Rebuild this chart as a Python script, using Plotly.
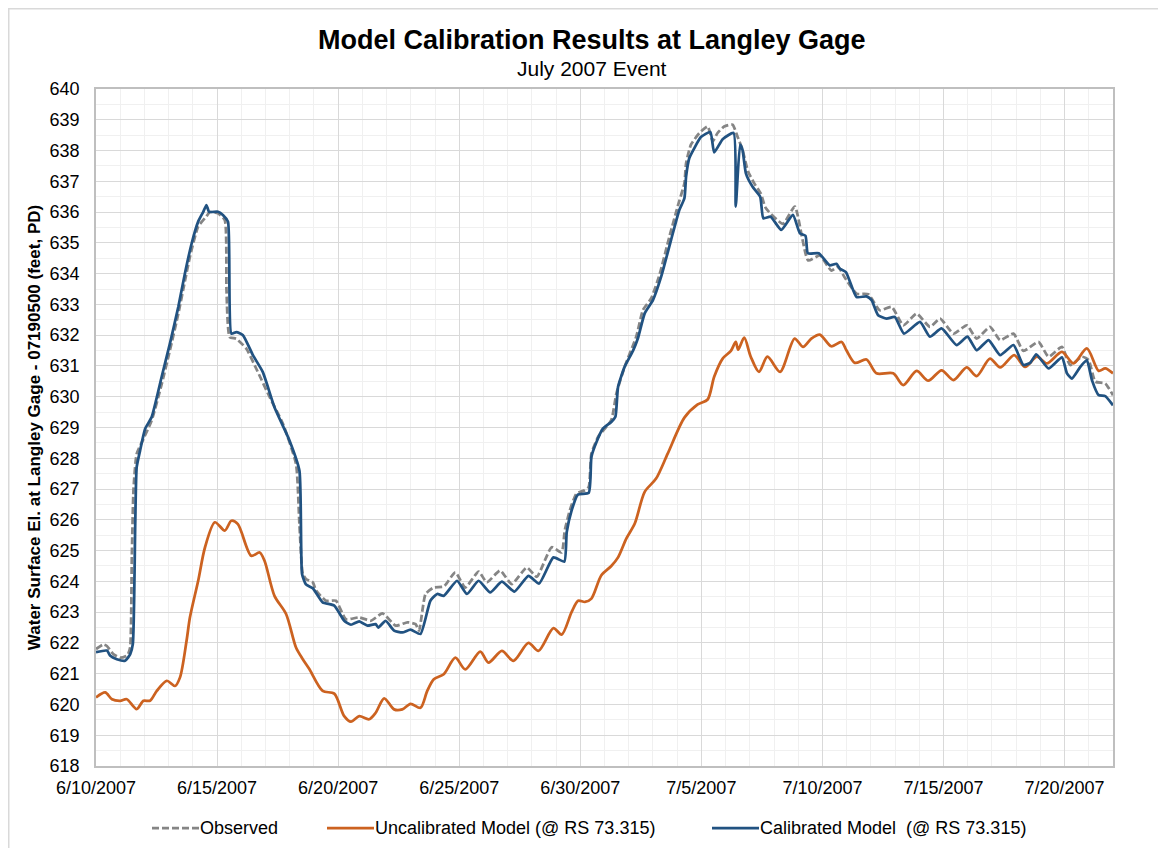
import pandas as pd
import plotly.graph_objects as go

# Data: day offsets from 6/10/2007 00:00 and water surface elevation (ft, PD)
observed_day = [
    0.0, 0.3, 0.45, 0.7, 1.0, 1.3, 1.41, 1.48, 1.55, 1.68, 1.96, 2.3, 2.71, 3.05, 3.4, 3.67,
    3.88, 4.22, 4.56, 4.7, 5.04, 5.32, 5.39, 5.52, 5.8, 6.21, 6.62, 7.17, 7.72, 8.26, 8.4,
    8.54, 8.67, 8.95, 9.09, 9.5, 9.91, 10.32, 10.87, 11.35, 11.83, 12.38, 12.86, 13.2, 13.34,
    13.61, 13.95, 14.36, 14.84, 15.25, 15.8, 16.14, 16.69, 17.17, 17.79, 18.2, 18.82, 19.23,
    19.36, 19.57, 19.84, 20.19, 20.35, 20.46, 20.74, 21.28, 21.49, 21.83, 22.31, 22.59, 22.93,
    23.27, 23.68, 24.02, 24.3, 24.37, 24.57, 24.92, 25.26, 25.47, 25.67, 25.94, 26.29, 26.49,
    26.7, 26.93, 27.18, 27.45, 27.66, 28.37, 28.86, 29.41, 29.89, 30.37, 30.65, 30.9, 31.41,
    31.89, 32.37, 32.86, 33.34, 33.89, 34.44, 34.86, 35.41, 35.96, 36.37, 36.92, 37.34, 37.89,
    38.3, 38.92, 39.34, 39.89, 40.23, 40.72, 40.99, 41.27, 41.68, 42.0,
]
observed_ft = [
    621.8, 621.95, 621.9, 621.65, 621.52, 621.6, 621.85, 624.8, 627.0, 628.14, 628.63, 629.23,
    630.4, 631.5, 632.7, 633.75, 634.55, 635.53, 635.86, 636.0, 635.96, 635.74, 633.46, 631.94,
    631.88, 631.56, 630.91, 629.99, 629.12, 627.82, 625.87, 624.24, 624.08, 623.97, 623.7,
    623.37, 623.37, 622.77, 622.83, 622.72, 622.96, 622.56, 622.67, 622.61, 622.4, 623.59,
    623.8, 623.83, 624.29, 623.8, 624.32, 623.97, 624.35, 623.91, 624.45, 624.15, 625.11,
    624.94, 625.66, 626.31, 626.85, 626.96, 627.07, 628.15, 628.7, 629.24, 630.1, 630.97,
    631.95, 632.82, 633.2, 633.96, 635.2, 636.18, 636.94, 637.59, 638.19, 638.57, 638.78,
    638.3, 638.57, 638.78, 638.84, 638.46, 638.02, 637.32, 636.94, 636.61, 636.13, 635.62,
    636.18, 634.43, 634.59, 634.1, 634.22, 633.9, 633.35, 633.33, 632.81, 632.92, 632.32,
    632.7, 632.27, 632.54, 632.05, 632.32, 631.89, 632.27, 631.84, 632.05, 631.49, 631.78,
    631.3, 631.62, 631.03, 631.3, 631.2, 630.49, 630.43, 630.05,
]

uncalibrated_day = [
    0.0, 0.38, 0.66, 1.0, 1.27, 1.68, 1.96, 2.23, 2.51, 2.92, 3.26, 3.47, 3.74, 3.88, 4.22,
    4.5, 4.91, 5.32, 5.59, 5.86, 6.41, 6.76, 6.96, 7.37, 7.85, 8.26, 8.54, 8.81, 9.36, 9.84,
    10.25, 10.53, 10.87, 11.28, 11.55, 11.9, 12.31, 12.65, 12.99, 13.4, 13.68, 13.95, 14.36,
    14.84, 15.25, 15.87, 16.21, 16.76, 17.24, 17.86, 18.27, 18.89, 19.23, 19.64, 19.91, 20.19,
    20.46, 20.87, 21.28, 21.56, 21.9, 22.25, 22.66, 23.13, 23.61, 24.3, 24.85, 25.26, 25.53,
    25.88, 26.22, 26.42, 26.52, 26.77, 27.04, 27.38, 27.73, 28.25, 28.85, 29.2, 29.54, 29.89,
    30.37, 30.79, 30.99, 31.34, 31.82, 32.23, 32.92, 33.34, 33.89, 34.37, 34.92, 35.41, 35.96,
    36.37, 36.92, 37.34, 37.92, 38.37, 38.86, 39.27, 39.89, 40.37, 40.92, 41.41, 41.68, 42.0,
]
uncalibrated_ft = [
    620.23, 620.39, 620.17, 620.12, 620.17, 619.85, 620.12, 620.12, 620.44, 620.77, 620.6,
    620.88, 622.07, 622.83, 624.02, 625.1, 625.92, 625.65, 625.97, 625.86, 624.83, 624.94,
    624.67, 623.53, 622.94, 621.85, 621.47, 621.15, 620.44, 620.35, 619.62, 619.44, 619.62,
    619.52, 619.73, 620.2, 619.84, 619.84, 620.02, 619.89, 620.44, 620.82, 620.98, 621.52,
    621.14, 621.72, 621.36, 621.74, 621.42, 622.0, 621.74, 622.48, 622.27, 623.0, 623.37,
    623.33, 623.44, 624.2, 624.5, 624.78, 625.39, 625.88, 626.91, 627.34, 628.15, 629.32,
    629.75, 629.91, 630.65, 631.24, 631.49, 631.78, 631.53, 631.92, 631.3, 630.81, 631.3,
    630.81, 631.89, 631.62, 631.89, 632.02, 631.64, 631.78, 631.51, 631.1, 631.21, 630.76,
    630.76, 630.38, 630.84, 630.52, 630.86, 630.54, 630.95, 630.67, 631.24, 630.95, 631.35,
    630.97, 631.3, 631.08, 631.46, 631.08, 631.57, 630.84, 630.92, 630.76,
]

calibrated_day = [
    0.0, 0.45, 0.59, 0.86, 1.2, 1.41, 1.52, 1.62, 1.68, 1.82, 2.03, 2.3, 2.71, 3.05, 3.4,
    3.67, 3.95, 4.22, 4.43, 4.56, 4.67, 5.04, 5.25, 5.45, 5.59, 5.8, 6.07, 6.48, 6.89, 7.37,
    7.99, 8.4, 8.51, 8.67, 8.95, 9.36, 9.84, 10.25, 10.53, 10.87, 11.21, 11.55, 11.66, 11.96,
    12.31, 12.65, 12.99, 13.4, 13.81, 14.09, 14.36, 14.91, 15.32, 15.8, 16.28, 16.76, 17.28,
    17.86, 18.3, 18.89, 19.34, 19.44, 19.64, 19.9, 20.35, 20.46, 20.67, 20.94, 21.28, 21.45,
    21.56, 21.83, 22.18, 22.38, 22.66, 23.0, 23.34, 23.75, 24.09, 24.3, 24.37, 24.5, 24.71,
    24.98, 25.37, 25.53, 25.88, 26.33, 26.42, 26.6, 26.7, 26.84, 27.11, 27.43, 27.56, 27.86,
    28.3, 28.78, 29.07, 29.3, 29.4, 29.85, 30.3, 30.58, 30.72, 30.97, 31.41, 31.82, 32.03,
    32.3, 32.65, 32.99, 33.37, 34.03, 34.44, 34.92, 35.54, 35.99, 36.37, 36.86, 37.34, 37.89,
    38.3, 38.58, 38.83, 39.34, 39.89, 40.1, 40.3, 40.65, 40.92, 41.13, 41.41, 41.68, 42.0,
]
calibrated_ft = [
    621.7, 621.75, 621.58, 621.47, 621.42, 621.63, 621.96, 625.87, 627.71, 628.25, 628.96,
    629.34, 630.64, 631.72, 632.92, 634.0, 634.98, 635.69, 636.01, 636.23, 636.01, 636.01,
    635.9, 635.69, 632.05, 632.1, 632.0, 631.35, 630.8, 629.66, 628.58, 627.6, 624.24, 623.9,
    623.78, 623.32, 623.21, 622.72, 622.59, 622.7, 622.56, 622.61, 622.5, 622.72, 622.4,
    622.34, 622.43, 622.29, 623.37, 623.59, 623.53, 624.02, 623.59, 624.02, 623.64, 623.99,
    623.67, 624.18, 623.93, 624.78, 624.64, 625.6, 626.3, 626.82, 626.88, 628.05, 628.53,
    628.97, 629.18, 629.35, 630.32, 630.97, 631.5, 631.9, 632.71, 633.14, 633.9, 635.1,
    636.07, 636.45, 637.16, 637.75, 638.08, 638.44, 638.6, 637.94, 638.37, 638.57, 636.18,
    638.19, 638.02, 637.26, 636.83, 636.5, 635.8, 635.85, 635.42, 635.91, 635.31, 635.23,
    634.66, 634.66, 634.27, 634.32, 634.16, 634.05, 633.24, 633.26, 633.14, 632.65, 632.54,
    632.59, 632.05, 632.43, 631.95, 632.22, 631.68, 631.95, 631.51, 631.84, 631.35, 631.68,
    631.03, 631.1, 631.38, 630.92, 631.28, 630.76, 630.59, 630.97, 631.19, 630.54, 630.05,
    630.02, 629.72,
]

series_names = [
    "Observed",
    "Uncalibrated Model (@ RS 73.315)",
    "Calibrated Model  (@ RS 73.315)",
]

START = pd.Timestamp("2007-06-10")
END = pd.Timestamp("2007-07-22")
FONT = "Arial, Liberation Sans, sans-serif"

# figure is 8px smaller than the window because the page body adds an 8px margin
WIDTH, HEIGHT = 1158, 840
MARGIN = dict(l=88, r=53, t=81, b=82)
PLOT_W = WIDTH - MARGIN["l"] - MARGIN["r"]
PLOT_H = HEIGHT - MARGIN["t"] - MARGIN["b"]


def to_dates(days):
    return START + pd.to_timedelta(days, unit="D")


def paper_x(px):
    return (px - MARGIN["l"]) / PLOT_W


def paper_y(py):
    return (HEIGHT - MARGIN["b"] - py) / PLOT_H


line_styles = [
    dict(color="#858585", width=2.75, dash="7px,3px", shape="spline", smoothing=0.5),
    dict(color="#CC6220", width=2.75, shape="spline", smoothing=0.8),
    dict(color="#215281", width=2.75, shape="spline", smoothing=0.5),
]
series_data = [
    (observed_day, observed_ft),
    (uncalibrated_day, uncalibrated_ft),
    (calibrated_day, calibrated_ft),
]

figure = go.Figure()

for name, (days, values), style in zip(series_names, series_data, line_styles):
    figure.add_trace(go.Scatter(
        x=to_dates(days), y=values, name=name, mode="lines", line=style, showlegend=False,
    ))

# legend drawn by hand so every entry sits where it is in the original
legend_line_start = [144, 319, 704]
legend_y = paper_y(820)
legend_shapes = []
legend_texts = []
for name, style, start in zip(series_names, line_styles, legend_line_start):
    legend_shapes.append(dict(
        type="line", xref="paper", yref="paper",
        x0=paper_x(start), x1=paper_x(start + 47), y0=legend_y, y1=legend_y,
        line=dict(color=style["color"], width=2.75, dash=style.get("dash", "solid")),
    ))
    legend_texts.append(dict(
        text=name.replace("  ", "&nbsp; "), xref="paper", yref="paper",
        x=paper_x(start + 46), y=legend_y, xanchor="left", yanchor="middle",
        showarrow=False, font=dict(family=FONT, size=18, color="#000000"),
    ))

figure.update_layout(
    width=WIDTH,
    height=HEIGHT,
    paper_bgcolor="white",
    plot_bgcolor="white",
    margin=MARGIN,
    font=dict(family=FONT, size=18, color="#000000"),
    showlegend=False,
    annotations=[
        dict(text="<b>Model Calibration Results at Langley Gage</b>", xref="paper", yref="paper",
             x=0.488, y=paper_y(32), yanchor="middle", showarrow=False,
             font=dict(family=FONT, size=27)),
        dict(text="July 2007 Event", xref="paper", yref="paper",
             x=0.488, y=paper_y(61), yanchor="middle", showarrow=False,
             font=dict(family=FONT, size=21)),
    ] + legend_texts,
    shapes=[
        dict(type="rect", xref="paper", yref="paper",
             x0=paper_x(0.5), x1=paper_x(WIDTH + 40), y0=paper_y(HEIGHT + 40), y1=paper_y(0.5),
             line=dict(color="#D9D9D9", width=2), layer="below"),
    ] + legend_shapes,
)

figure.update_xaxes(
    type="date",
    range=[START, END],
    tick0=START,
    dtick=5 * 86400000,
    tickformat="%-m/%-d/%Y",
    ticks="",
    ticklabelstandoff=5,
    showgrid=True,
    gridcolor="#D9D9D9",
    gridwidth=1.3,
    minor=dict(dtick=86400000, showgrid=True, gridcolor="#F0F0F0", gridwidth=1.3),
    showline=True,
    linecolor="#BFBFBF",
    linewidth=1.5,
    mirror=True,
    zeroline=False,
    tickfont=dict(family=FONT, size=18),
)

figure.update_yaxes(
    range=[618, 640],
    dtick=1,
    ticks="",
    ticklabelstandoff=11,
    showgrid=True,
    gridcolor="#D9D9D9",
    gridwidth=1.3,
    minor=dict(dtick=0.5, showgrid=True, gridcolor="#F0F0F0", gridwidth=1.3),
    showline=True,
    linecolor="#BFBFBF",
    linewidth=1.5,
    mirror=True,
    zeroline=False,
    tickfont=dict(family=FONT, size=18),
    title=dict(
        text="<b>Water Surface El. at Langley Gage - 07190500 (feet, PD)</b>",
        font=dict(family=FONT, size=17),
        standoff=5,
    ),
)

figure.write_html("out.html")
